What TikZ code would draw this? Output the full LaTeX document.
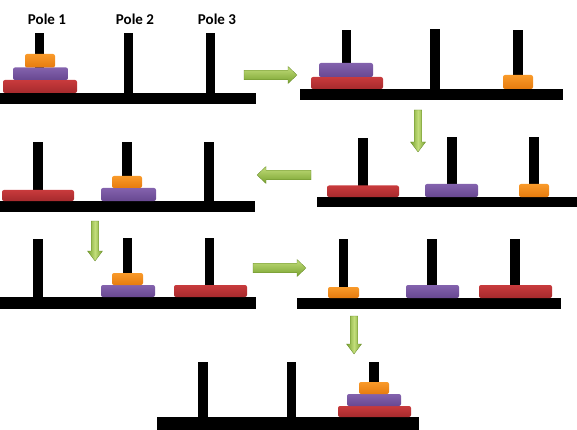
\documentclass[tikz,border=0pt]{standalone}
\usepackage{fontspec}
\setmainfont{Carlito}
\definecolor{diskred}{HTML}{C83A3C}
\definecolor{diskredD}{HTML}{A62A2D}
\definecolor{diskpurple}{HTML}{8362AD}
\definecolor{diskpurpleD}{HTML}{684891}
\definecolor{diskorange}{HTML}{F99A2A}
\definecolor{diskorangeD}{HTML}{E67B0E}
\definecolor{arrlight}{HTML}{C2DD7A}
\definecolor{arrdark}{HTML}{78A22F}
\tikzset{
  basebar/.style={fill=black},
  polebar/.style={fill=black},
  disk/.style={rounded corners=2pt},
  reddisk/.style={disk,top color=diskred,bottom color=diskredD},
  purpledisk/.style={disk,top color=diskpurple,bottom color=diskpurpleD},
  orangedisk/.style={disk,top color=diskorange,bottom color=diskorangeD},
  harrow/.style={top color=arrlight,bottom color=arrdark,draw=arrdark!85!black,line width=0.3pt},
  varrow/.style={left color=arrdark,right color=arrdark,middle color=arrlight,draw=arrdark!85!black,line width=0.3pt},
  polelabel/.style={font=\bfseries\fontsize{15}{17}\selectfont,inner sep=0pt}
}
% pole: x-centre, top, base-top
\newcommand\polepeg[3]{\path[polebar] (#1-4.7,#2) rectangle (#1+4.7,#3+1);}
% horizontal arrows: x-tail, x-tip, y
\newcommand\arrowR[3]{\path[harrow] (#1,#3-4.8) -- (#2-9,#3-4.8) -- (#2-9,#3-8.5) -- (#2,#3) -- (#2-9,#3+8.5) -- (#2-9,#3+4.8) -- (#1,#3+4.8) -- cycle;}
\newcommand\arrowL[3]{\path[harrow] (#1,#3-4.8) -- (#2+9,#3-4.8) -- (#2+9,#3-8.5) -- (#2,#3) -- (#2+9,#3+8.5) -- (#2+9,#3+4.8) -- (#1,#3+4.8) -- cycle;}
% down arrow: x, y-tail, y-tip
\newcommand\arrowD[3]{\path[varrow] (#1-3.8,#2) -- (#1+3.8,#2) -- (#1+3.8,#3-10) -- (#1+7.5,#3-10) -- (#1,#3) -- (#1-7.5,#3-10) -- (#1-3.8,#3-10) -- cycle;}
\begin{document}
\begin{tikzpicture}[x=1pt,y=-1pt]
\useasboundingbox (0,0) rectangle (577,430);
% labels
\node[polelabel] (lab1) at (47,19) {Pole 1};
\node[polelabel] (lab2) at (135,19) {Pole 2};
\node[polelabel] (lab3) at (217,19) {Pole 3};
% Panel 1
\path[basebar] (0,93) rectangle (256,104);
\polepeg{39.5}{33}{93}\polepeg{128.5}{33}{93}\polepeg{210.5}{33}{93}
\path[reddisk] (3,80) rectangle (77,93);
\path[purpledisk] (13,67.5) rectangle (68,80);
\path[orangedisk] (25,54) rectangle (55,67.5);
% Panel 2
\path[basebar] (300,89) rectangle (563,100);
\polepeg{346.5}{30}{89}\polepeg{435}{29}{89}\polepeg{518}{30}{89}
\path[reddisk] (311,77) rectangle (383,89);
\path[purpledisk] (319,63) rectangle (373,77);
\path[orangedisk] (503,75) rectangle (533,89);
% Panel 3
\path[basebar] (317,197) rectangle (577,207);
\polepeg{363}{138}{197}\polepeg{452}{137}{197}\polepeg{534}{137}{197}
\path[reddisk] (327,185.5) rectangle (399,197);
\path[purpledisk] (425,184) rectangle (478,197);
\path[orangedisk] (519,184) rectangle (549,197);
% Panel 4
\path[basebar] (0,201) rectangle (255,212);
\polepeg{38}{142}{201}\polepeg{127}{142}{201}\polepeg{209}{142}{201}
\path[reddisk] (2,190) rectangle (74,201);
\path[purpledisk] (101,188) rectangle (156,201);
\path[orangedisk] (112,176) rectangle (142,188);
% Panel 5
\path[basebar] (0,297) rectangle (256,309);
\polepeg{38}{239}{297}\polepeg{127.5}{238}{297}\polepeg{209.5}{238}{297}
\path[purpledisk] (101,285) rectangle (155,297);
\path[orangedisk] (112,273) rectangle (143,285);
\path[reddisk] (174,285) rectangle (247,297);
% Panel 6
\path[basebar] (297,298) rectangle (561,309);
\polepeg{343.5}{239}{298}\polepeg{432}{239}{298}\polepeg{515}{239}{298}
\path[orangedisk] (328,287) rectangle (359,298);
\path[purpledisk] (406,285) rectangle (459,298);
\path[reddisk] (479,285) rectangle (552,298);
% Panel 7
\path[basebar] (157,417) rectangle (419,430);
\polepeg{203}{362}{417}\polepeg{291.5}{362}{417}\polepeg{374}{362}{417}
\path[reddisk] (338,406) rectangle (411,417);
\path[purpledisk] (347,394) rectangle (401,406);
\path[orangedisk] (359,382) rectangle (389,394);
% arrows
\arrowR{244}{297}{75}
\arrowD{418}{110}{152}
\arrowL{311}{257}{175}
\arrowD{95}{221}{261}
\arrowR{253}{306}{268}
\arrowD{354}{316}{354}
\end{tikzpicture}
\end{document}
